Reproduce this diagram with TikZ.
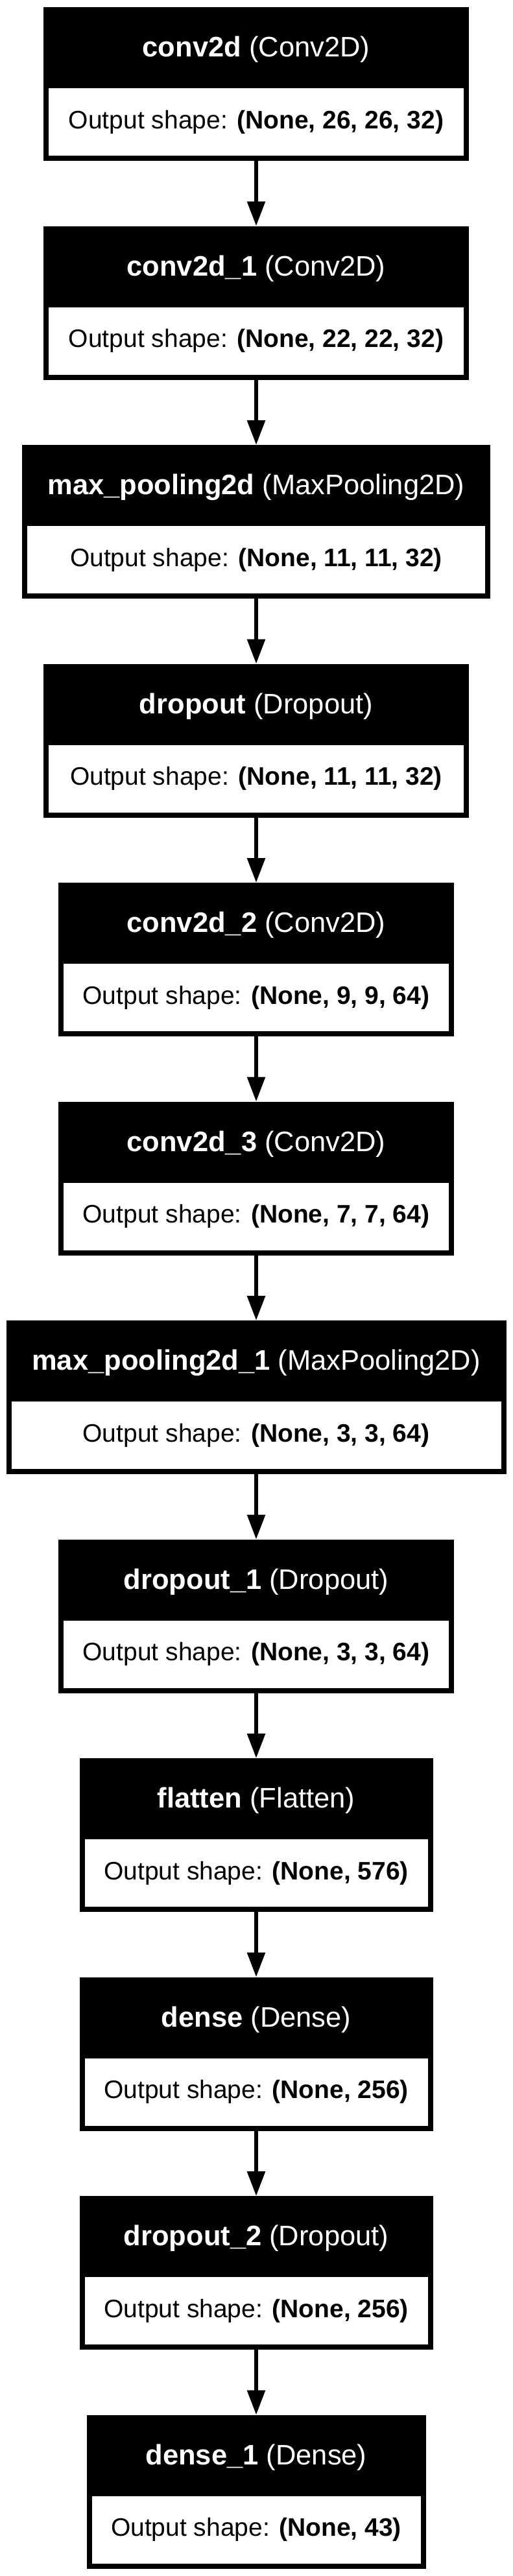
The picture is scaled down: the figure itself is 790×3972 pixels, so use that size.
\documentclass[tikz,border=0pt]{standalone}
\usepackage{fontspec}
\setmainfont{Liberation Sans}
\usetikzlibrary{arrows.meta,positioning}

\begin{document}
\begin{tikzpicture}[x=1pt, y=1pt,
    head/.style={fill=black, text=white, inner sep=0pt, outer sep=0pt,
      minimum height=125pt, text height=31pt, text depth=3pt,
      font=\fontsize{43.5pt}{52pt}\selectfont},
    outbox/.style={draw=black, line width=8pt, fill=white, inner sep=0pt, outer sep=4pt,
      minimum height=112pt, text height=28pt, text depth=8pt,
      font=\fontsize{39pt}{47pt}\selectfont, below=-8pt of #1},
    flow/.style={-{Triangle[length=38pt, width=27pt]}, line width=6pt}]
    \useasboundingbox (0,0) rectangle (790,-3972);

    \node[head, minimum width=656pt, anchor=north] (conv2d) at (395,-11) {\textbf{conv2d} (Conv2D)};
    \node[outbox=conv2d, minimum width=648pt] (conv2d-out) {Output shape: \textbf{(None, 26, 26, 32)}};

    \node[head, minimum width=656pt, below=100.5pt of conv2d-out] (conv2d1) {\textbf{conv2d\_1} (Conv2D)};
    \node[outbox=conv2d1, minimum width=648pt] (conv2d1-out) {Output shape: \textbf{(None, 22, 22, 32)}};

    \node[head, minimum width=722pt, below=100.5pt of conv2d1-out] (maxpool) {\textbf{max\_pooling2d} (MaxPooling2D)};
    \node[outbox=maxpool, minimum width=714pt] (maxpool-out) {Output shape: \textbf{(None, 11, 11, 32)}};

    \node[head, minimum width=656pt, below=100.5pt of maxpool-out] (dropout) {\textbf{dropout} (Dropout)};
    \node[outbox=dropout, minimum width=648pt] (dropout-out) {Output shape: \textbf{(None, 11, 11, 32)}};

    \node[head, minimum width=610pt, below=100.5pt of dropout-out] (conv2d2) {\textbf{conv2d\_2} (Conv2D)};
    \node[outbox=conv2d2, minimum width=602pt] (conv2d2-out) {Output shape: \textbf{(None, 9, 9, 64)}};

    \node[head, minimum width=610pt, below=100.5pt of conv2d2-out] (conv2d3) {\textbf{conv2d\_3} (Conv2D)};
    \node[outbox=conv2d3, minimum width=602pt] (conv2d3-out) {Output shape: \textbf{(None, 7, 7, 64)}};

    \node[head, minimum width=771pt, below=100.5pt of conv2d3-out] (maxpool1) {\textbf{max\_pooling2d\_1} (MaxPooling2D)};
    \node[outbox=maxpool1, minimum width=763pt] (maxpool1-out) {Output shape: \textbf{(None, 3, 3, 64)}};

    \node[head, minimum width=610pt, below=100.5pt of maxpool1-out] (dropout1) {\textbf{dropout\_1} (Dropout)};
    \node[outbox=dropout1, minimum width=602pt] (dropout1-out) {Output shape: \textbf{(None, 3, 3, 64)}};

    \node[head, minimum width=545pt, below=100.5pt of dropout1-out] (flatten) {\textbf{flatten} (Flatten)};
    \node[outbox=flatten, minimum width=537pt] (flatten-out) {Output shape: \textbf{(None, 576)}};

    \node[head, minimum width=545pt, below=100.5pt of flatten-out] (dense) {\textbf{dense} (Dense)};
    \node[outbox=dense, minimum width=537pt] (dense-out) {Output shape: \textbf{(None, 256)}};

    \node[head, minimum width=545pt, below=100.5pt of dense-out] (dropout2) {\textbf{dropout\_2} (Dropout)};
    \node[outbox=dropout2, minimum width=537pt] (dropout2-out) {Output shape: \textbf{(None, 256)}};

    \node[head, minimum width=523pt, below=100.5pt of dropout2-out] (dense1) {\textbf{dense\_1} (Dense)};
    \node[outbox=dense1, minimum width=515pt] (dense1-out) {Output shape: \textbf{(None, 43)}};

    \path[flow]
      (conv2d-out) edge (conv2d1)
      (conv2d1-out) edge (maxpool)
      (maxpool-out) edge (dropout)
      (dropout-out) edge (conv2d2)
      (conv2d2-out) edge (conv2d3)
      (conv2d3-out) edge (maxpool1)
      (maxpool1-out) edge (dropout1)
      (dropout1-out) edge (flatten)
      (flatten-out) edge (dense)
      (dense-out) edge (dropout2)
      (dropout2-out) edge (dense1);
\end{tikzpicture}
\end{document}
